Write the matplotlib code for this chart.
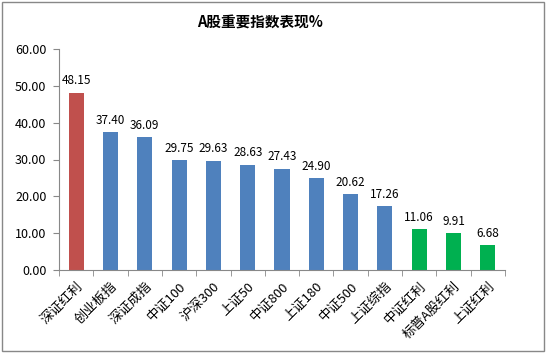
import matplotlib.pyplot as plt
from matplotlib.patches import Rectangle

plt.rcParams['font.family'] = ['Noto Sans CJK SC', 'DejaVu Sans']

names = ['深证红利', '创业板指', '深证成指', '中证100', '沪深300', '上证50', '中证800',
         '上证180', '中证500', '上证综指', '中证红利', '标普A股红利', '上证红利']
values = [48.15, 37.40, 36.09, 29.75, 29.63, 28.63, 27.43, 24.90, 20.62, 17.26, 11.06, 9.91, 6.68]
colors = ['#C0504D'] + ['#4F81BD'] * 9 + ['#00B050'] * 3

fig = plt.figure(figsize=(5.47, 3.53), dpi=100)
fig.patches.append(Rectangle((0.004, 0.006), 0.99, 0.988, transform=fig.transFigure,
                             fill=False, edgecolor='#888888', linewidth=1))
ax = fig.add_axes([59 / 547, 1 - 270 / 353, 446 / 547, 221 / 353])

x = range(len(names))
ax.bar(x, values, width=0.44, color=colors)
for i, v in zip(x, values):
    ax.text(i, v + 1.5, '%.2f' % v, ha='center', va='bottom', fontsize=8.5)

ax.set_xlim(-0.5, len(names) - 0.5)
ax.set_ylim(0, 60)
ax.set_yticks(range(0, 61, 10))
ax.set_yticklabels(['%.2f' % t for t in range(0, 61, 10)], fontsize=9)
ax.set_xticks(x)
ax.set_xticklabels(names, rotation=45, ha='right', rotation_mode='anchor', fontsize=9.5)
ax.tick_params(axis='x', length=0, pad=7)
ax.set_xticks([i - 0.5 for i in range(len(names) + 1)], minor=True)
ax.tick_params(axis='x', which='minor', length=4, color='#888888', direction='out')
ax.tick_params(axis='y', length=4, color='#888888', direction='out', pad=5)
for s in ['top', 'right']:
    ax.spines[s].set_visible(False)
for s in ['left', 'bottom']:
    ax.spines[s].set_color('#888888')

fig.text(260 / 547, 1 - 22 / 353, 'A股重要指数表现%', ha='center', va='center',
         fontsize=10.5, fontweight='bold')

fig.savefig('out.png', dpi=100)
